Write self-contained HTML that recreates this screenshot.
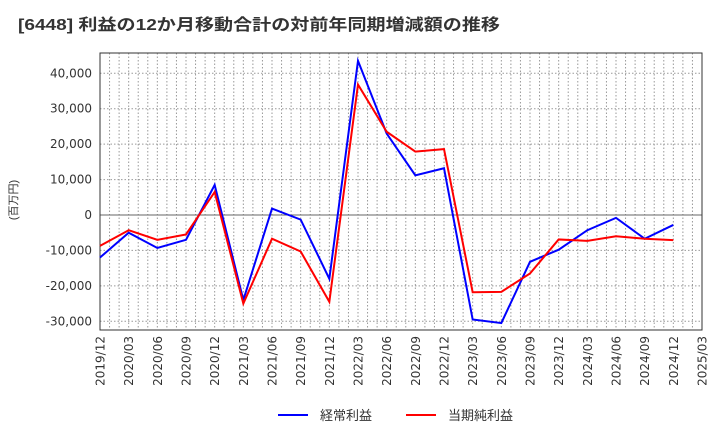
<!DOCTYPE html>
<html><head><meta charset="utf-8"><style>
body{margin:0;background:#fff;font-family:"Liberation Sans","Noto Sans CJK JP",sans-serif}
</style></head><body>
<svg id="c" width="720" height="440" xmlns="http://www.w3.org/2000/svg" font-family="Liberation Sans, Noto Sans CJK JP, sans-serif">
<text x="18" y="30" font-size="16" font-weight="bold" fill="#333" textLength="482" lengthAdjust="spacingAndGlyphs">[6448]  利益の12か月移動合計の対前年同期増減額の推移</text>
<text transform="translate(17,200) rotate(-90)" text-anchor="middle" font-size="11" fill="#333">(百万円)</text>
<g id="grid"></g><g id="axes"></g><g id="series"></g>
<g>
<line x1="278" y1="415" x2="308" y2="415" stroke="#0000ff" stroke-width="2"/>
<text x="320" y="420" font-size="13" fill="#333">経常利益</text>
<line x1="406" y1="415" x2="436" y2="415" stroke="#ff0000" stroke-width="2"/>
<text x="448" y="420" font-size="13" fill="#333">当期純利益</text>
</g>
</svg>
<script>
const xLabels=["2019/12","2020/03","2020/06","2020/09","2020/12","2021/03","2021/06","2021/09","2021/12","2022/03","2022/06","2022/09","2022/12","2023/03","2023/06","2023/09","2023/12","2024/03","2024/06","2024/09","2024/12","2025/03"];
const yTicks=[40000,30000,20000,10000,0,-10000,-20000,-30000];
const keijo=[-12000,-5000,-9300,-7000,8500,-24000,1800,-1300,-18000,43500,23000,11200,13200,-29500,-30500,-13200,-9800,-4300,-800,-6700,-2800];
const junri=[-8700,-4300,-7000,-5500,6500,-25000,-6700,-10300,-24500,36800,23500,17900,18600,-21800,-21700,-16500,-6900,-7300,-6000,-6700,-7100];
const L=100,R=702,T=53,B=330;
const NS="http://www.w3.org/2000/svg";
const xq=i=>L+i*(R-L)/(xLabels.length-1);
const ym=v=>215-v*(248/70000);
function mk(p,t,a){const e=document.createElementNS(NS,t);for(const k in a)e.setAttribute(k,a[k]);p.appendChild(e);return e;}
const g=document.getElementById('grid'),ax=document.getElementById('axes'),s=document.getElementById('series');
const months=(xLabels.length-1)*3;
for(let m=1;m<months;m++){const x=L+m*(R-L)/months;const e=mk(g,'line',{x1:x,y1:T,x2:x,y2:B,stroke:'#999','stroke-dasharray':'1.5,2','stroke-width':1});

}
yTicks.forEach(v=>{const y=ym(v);const e=mk(g,'line',{x1:L,y1:y,x2:R,y2:y,stroke:v===0?'#666':'#999','stroke-dasharray':v===0?'':'1.5,2','stroke-width':1});


const t=mk(ax,'text',{x:L-8,y:y+4,'text-anchor':'end','font-size':12,fill:'#333','font-family':'DejaVu Sans, sans-serif'});t.textContent=v.toLocaleString('en-US');

});
const fr=mk(ax,'rect',{x:L,y:T,width:R-L,height:B-T,fill:'none',stroke:'#333','stroke-width':1});


xLabels.forEach((l,i)=>{const x=xq(i);const t=mk(ax,'text',{transform:`translate(${x+4.5},${B+6}) rotate(-90)`,'text-anchor':'end','font-size':12,fill:'#333','font-family':'DejaVu Sans, sans-serif'});t.textContent=l;

});
function line(d,c,n){const p=mk(s,'polyline',{points:d.map((v,i)=>xq(i)+','+ym(v)).join(' '),fill:'none',stroke:c,'stroke-width':2});

}
line(keijo,'#0000ff','keijo-line');
line(junri,'#ff0000','junri-line');
</script>
</body></html>
